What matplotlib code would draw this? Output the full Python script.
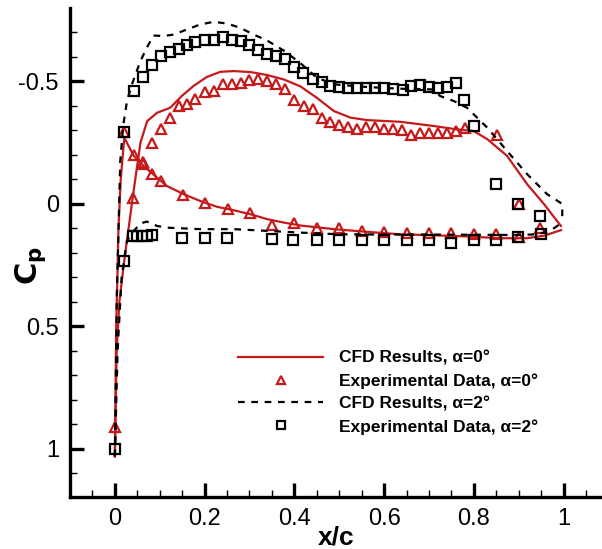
import numpy as np
import matplotlib
matplotlib.use('Agg')
import matplotlib.pyplot as plt

plt.rcParams['font.family'] = ['Liberation Sans', 'DejaVu Sans']

RED = '#c41a1a'

# CFD alpha=0, upper branch (suction peak near x/c=0.3)
cfd0_up_x = [0.0, 0.004, 0.01, 0.021, 0.04, 0.057, 0.072, 0.094, 0.123, 0.149, 0.175, 0.205,
             0.235, 0.265, 0.302, 0.339, 0.376, 0.413, 0.45, 0.488, 0.525, 0.562, 0.636,
             0.71, 0.763, 0.80, 0.83, 0.874, 0.919, 0.956, 0.994]
cfd0_up_cp = [1.03, 0.6, 0.4, 0.23, -0.03, -0.25, -0.338, -0.372, -0.392, -0.44, -0.481, -0.518,
              -0.539, -0.542, -0.538, -0.526, -0.508, -0.48, -0.433, -0.379, -0.352, -0.342, -0.335,
              -0.318, -0.304, -0.297, -0.264, -0.196, -0.08, 0.0, 0.09]
# CFD alpha=0, lower branch (peak near leading edge)
cfd0_lo_x = [0.0, 0.003, 0.008, 0.013, 0.021, 0.042, 0.064, 0.094, 0.116, 0.153, 0.19, 0.228,
             0.265, 0.302, 0.339, 0.376, 0.413, 0.488, 0.562, 0.636, 0.71, 0.785, 0.86, 0.918,
             0.956, 0.994]
cfd0_lo_cp = [1.03, 0.5, 0.1, -0.1, -0.27, -0.196, -0.155, -0.107, -0.073, -0.04, -0.012, 0.012,
              0.026, 0.042, 0.062, 0.076, 0.088, 0.103, 0.114, 0.124, 0.128, 0.133, 0.14, 0.14,
              0.13, 0.107]

# CFD alpha=2
cfd2_up_x = [0.0, 0.004, 0.012, 0.019, 0.027, 0.038, 0.057, 0.071, 0.086, 0.109, 0.131, 0.161,
             0.19, 0.22, 0.25, 0.28, 0.309, 0.339, 0.376, 0.413, 0.45, 0.488, 0.562, 0.636,
             0.71, 0.725, 0.755, 0.785, 0.83, 0.874, 0.919, 0.963, 0.997, 0.997]
cfd2_up_cp = [1.03, 0.4, -0.175, -0.325, -0.42, -0.488, -0.583, -0.637, -0.687, -0.685, -0.691, -0.712,
              -0.732, -0.743, -0.736, -0.718, -0.691, -0.667, -0.626, -0.575, -0.515, -0.488, -0.477, -0.47,
              -0.467, -0.44, -0.42, -0.392, -0.311, -0.216, -0.121, -0.04, 0.0, 0.076]
cfd2_lo_x = [0.0, 0.006, 0.015, 0.027, 0.042, 0.057, 0.071, 0.094, 0.116, 0.19, 0.265, 0.339,
             0.413, 0.5, 0.6, 0.7, 0.8, 0.9, 0.94, 0.97, 0.997]
cfd2_lo_cp = [1.03, 0.6, 0.3, 0.15, 0.11, 0.08, 0.072, 0.09, 0.097, 0.103, 0.103, 0.11,
              0.117, 0.124, 0.125, 0.125, 0.126, 0.127, 0.124, 0.11, 0.076]

# Experimental alpha=0
exp0_x = [0.0, 0.021, 0.04, 0.063, 0.083, 0.103, 0.122, 0.142, 0.161, 0.179, 0.2, 0.22, 0.242,
          0.262, 0.281, 0.3, 0.32, 0.339, 0.36, 0.38, 0.40, 0.421, 0.441, 0.462, 0.48, 0.50,
          0.519, 0.54, 0.56, 0.58, 0.60, 0.62, 0.64, 0.661, 0.681, 0.70, 0.72, 0.74, 0.76,
          0.78, 0.852, 0.90, 0.948,
          0.042, 0.063, 0.083, 0.103, 0.152, 0.201, 0.251, 0.302, 0.35, 0.40, 0.45, 0.50,
          0.55, 0.60, 0.65, 0.70, 0.75, 0.80, 0.85, 0.90]
exp0_cp = [0.91, -0.293, -0.026, -0.162, -0.25, -0.307, -0.352, -0.399, -0.409, -0.429, -0.456, -0.46,
           -0.488, -0.49, -0.494, -0.504, -0.508, -0.501, -0.488, -0.467, -0.423, -0.399, -0.386, -0.352,
           -0.334, -0.322, -0.314, -0.304, -0.314, -0.314, -0.304, -0.304, -0.3, -0.28, -0.288, -0.291,
           -0.288, -0.288, -0.297, -0.308, -0.281, 0.0, 0.097,
           -0.2, -0.17, -0.121, -0.094, -0.037, -0.005, 0.022, 0.039, 0.086, 0.076, 0.097, 0.10,
           0.11, 0.115, 0.12, 0.12, 0.12, 0.124, 0.124, 0.137]

# Experimental alpha=2
exp2_x = [0.0, 0.021, 0.021, 0.042, 0.063, 0.083, 0.103, 0.123, 0.142, 0.161, 0.179, 0.2, 0.22,
          0.242, 0.262, 0.281, 0.3, 0.32, 0.339, 0.36, 0.38, 0.40, 0.419, 0.441, 0.462, 0.48,
          0.50, 0.52, 0.54, 0.56, 0.58, 0.60, 0.62, 0.641, 0.661, 0.68, 0.70, 0.72, 0.74, 0.76,
          0.779, 0.80, 0.85, 0.899, 0.948,
          0.04, 0.05, 0.061, 0.072, 0.082, 0.15, 0.2, 0.25, 0.35, 0.398, 0.45, 0.5, 0.55, 0.6,
          0.65, 0.7, 0.749, 0.8, 0.85, 0.899, 0.95]
exp2_cp = [1.0, 0.232, -0.293, -0.46, -0.518, -0.565, -0.603, -0.62, -0.633, -0.647, -0.659, -0.667,
           -0.668, -0.683, -0.668, -0.664, -0.647, -0.63, -0.611, -0.603, -0.59, -0.56, -0.535, -0.508,
           -0.498, -0.481, -0.477, -0.474, -0.474, -0.474, -0.474, -0.474, -0.47, -0.463, -0.481, -0.485,
           -0.477, -0.471, -0.478, -0.494, -0.423, -0.318, -0.083, 0.001, 0.049,
           0.13, 0.13, 0.13, 0.13, 0.126, 0.14, 0.14, 0.14, 0.144, 0.148, 0.148, 0.148, 0.148, 0.148,
           0.148, 0.148, 0.158, 0.148, 0.148, 0.137, 0.124]

labels = ['CFD Results, α=0°', 'Experimental Data, α=0°',
          'CFD Results, α=2°', 'Experimental Data, α=2°']

fig = plt.figure(figsize=(6.02, 5.49), dpi=100)
ax = fig.add_axes([0.1163, 0.0947, 0.884, 0.891])

line_kw = [dict(color=RED, lw=1.6),
           dict(ls='none', marker='^', mfc='none', mec=RED, mew=1.6),
           dict(color='black', lw=1.6, ls=(0, (3, 3))),
           dict(ls='none', marker='s', mfc='none', mec='black', mew=1.6)]

ax.plot(cfd0_up_x, cfd0_up_cp, **line_kw[0])
ax.plot(cfd0_lo_x, cfd0_lo_cp, **line_kw[0])
ax.plot(exp0_x, exp0_cp, ms=7, **line_kw[1])
ax.plot(cfd2_up_x, cfd2_up_cp, **line_kw[2])
ax.plot(cfd2_lo_x, cfd2_lo_cp, **line_kw[2])
ax.plot(exp2_x, exp2_cp, ms=7, **line_kw[3])

# legend drawn by hand so the rows are evenly spaced, as in the original
row_y = [0.2863, 0.2393, 0.1933, 0.1462]
for i, (lab, kw) in enumerate(zip(labels, line_kw)):
    y = row_y[i]
    if kw.get('marker'):
        ax.plot([0.3966], [y], transform=ax.transAxes, ms=6, clip_on=False, **kw)
    else:
        ax.plot([0.3158, 0.4756], [y, y], transform=ax.transAxes, clip_on=False, **kw)
    ax.text(0.5056, y, lab, transform=ax.transAxes, fontsize=12.5, fontweight='bold',
            va='center_baseline', ha='left')

ax.set_xlim(-0.1, 1.086)
ax.set_ylim(1.196, -0.8)
ax.set_xticks([0, 0.2, 0.4, 0.6, 0.8, 1.0])
ax.set_xticklabels(['0', '0.2', '0.4', '0.6', '0.8', '1'])
ax.set_xticks(np.arange(-0.05, 1.09, 0.05), minor=True)
ax.set_yticks([-0.5, 0, 0.5, 1.0])
ax.set_yticklabels(['-0.5', '0', '0.5', '1'])
ax.set_yticks(np.arange(-0.7, 1.2, 0.1), minor=True)

for s in ['top', 'right']:
    ax.spines[s].set_visible(False)
for s in ['left', 'bottom']:
    ax.spines[s].set_linewidth(2.4)
ax.tick_params(which='major', direction='in', length=10, width=2.4, labelsize=17, pad=8)
ax.tick_params(which='minor', direction='in', length=5, width=1)

ax.set_xlabel('x/c', fontsize=19, fontweight='bold', va='top')
ax.xaxis.set_label_coords(0.5, -0.058)
ax.set_ylabel(r'$\mathbf{C_p}$', fontsize=22, va='center')
ax.yaxis.set_label_coords(-0.075, 0.474)

fig.savefig('out.png', dpi=100)
